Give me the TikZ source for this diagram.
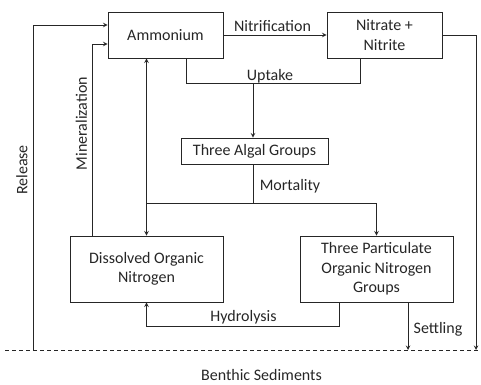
\documentclass[tikz,border=0pt]{standalone}
\usepackage{fontspec}
\setmainfont{Carlito}
\usetikzlibrary{arrows, positioning, calc}

\begin{document}
\begin{tikzpicture}[
  x=1pt, y=-1pt,
  line width=1pt, draw=black!85,
  every node/.style={font=\fontsize{16}{19.5}\selectfont, text=black!85},
  pool/.style={rectangle, draw, line width=0.9pt, inner sep=2pt,
               align=center},
  lbl/.style={inner sep=0pt},
  flow/.style={line width=1pt},
  arr/.style={->, flow, >=stealth},
  biarr/.style={<->, flow, >=stealth},
  sed/.style={dashed, line width=0.8pt, dash pattern=on 4pt off 3pt}
]
\useasboundingbox (0,0) rectangle (481,384);

%% ---- Pools ----
\node[pool, minimum width=115, minimum height=46] (amm) at (165.5, 35) {Ammonium};
\node[pool, minimum width=115, minimum height=46] (nit) at (384.5, 35) {Nitrate +\\Nitrite};
\node[pool, minimum width=147, minimum height=26] (alg) at (254.5, 151) {Three Algal Groups};
\node[pool, minimum width=153, minimum height=66] (don) at (146.5, 269) {Dissolved Organic\\Nitrogen};
\node[pool, minimum width=153, minimum height=66] (pon) at (376.5, 269) {Three Particulate\\Organic Nitrogen\\Groups};

%% ---- Junctions ----
\coordinate (uptL) at (186, 83);
\coordinate (uptR) at (360, 83);
\coordinate (upt)  at (253, 83);
\coordinate (mort) at (253, 203);
\coordinate (hydR) at (339, 326);
\coordinate (minx) at (92, 0);
\coordinate (sedL) at (5, 350);
\coordinate (sedR) at (481, 350);
\coordinate (rel)  at (33, 350);
\coordinate (settle) at (408, 350);
\coordinate (nitdown) at (476, 350);

%% ---- Benthic boundary ----
\draw[sed] (sedL) -- (sedR);
\node[lbl] (bent) at (261.5, 375) {Benthic Sediments};

%% ---- Nitrification ----
\draw[arr] (amm.east) -- (nit.west);
\node[lbl] (lnit) at (272.5, 26) {Nitrification};

%% ---- Uptake ----
\draw[flow] (uptL |- amm.south) -- (uptL) -- (uptR) -- (uptR |- nit.south);
\draw[arr] (upt) -- (upt |- alg.north);
\node[lbl] (lupt) at (270, 76) {Uptake};

%% ---- Mortality ----
\draw[flow] (alg.south -| mort) -- (mort);
\draw[arr] (don.north |- mort) -| (pon.north);
\node[lbl] (lmort) at (290, 186) {Mortality};

%% ---- Ammonium <-> DON ----
\draw[biarr] (don.north |- amm.south) -- (don.north);

%% ---- Hydrolysis ----
\draw[arr] (hydR |- pon.south) -- (hydR) -| (don.south);
\node[lbl] (lhyd) at (243.5, 317) {Hydrolysis};

%% ---- Settling ----
\draw[arr] (settle |- pon.south) -- (settle);
\node[lbl] (lset) at (438, 329) {Settling};
\draw[arr] (nit.east) -| (nitdown);

%% ---- Mineralization and release ----
\draw[arr] (minx |- don.north) |- ([yshift=-9pt]amm.west);
\node[lbl, rotate=90] (lmin) at (81.5, 123.5) {Mineralization};
\draw[arr] (rel) |- ([yshift=10pt]amm.west);
\node[lbl, rotate=90] (lrel) at (22, 170) {Release};

\end{tikzpicture}
\end{document}
